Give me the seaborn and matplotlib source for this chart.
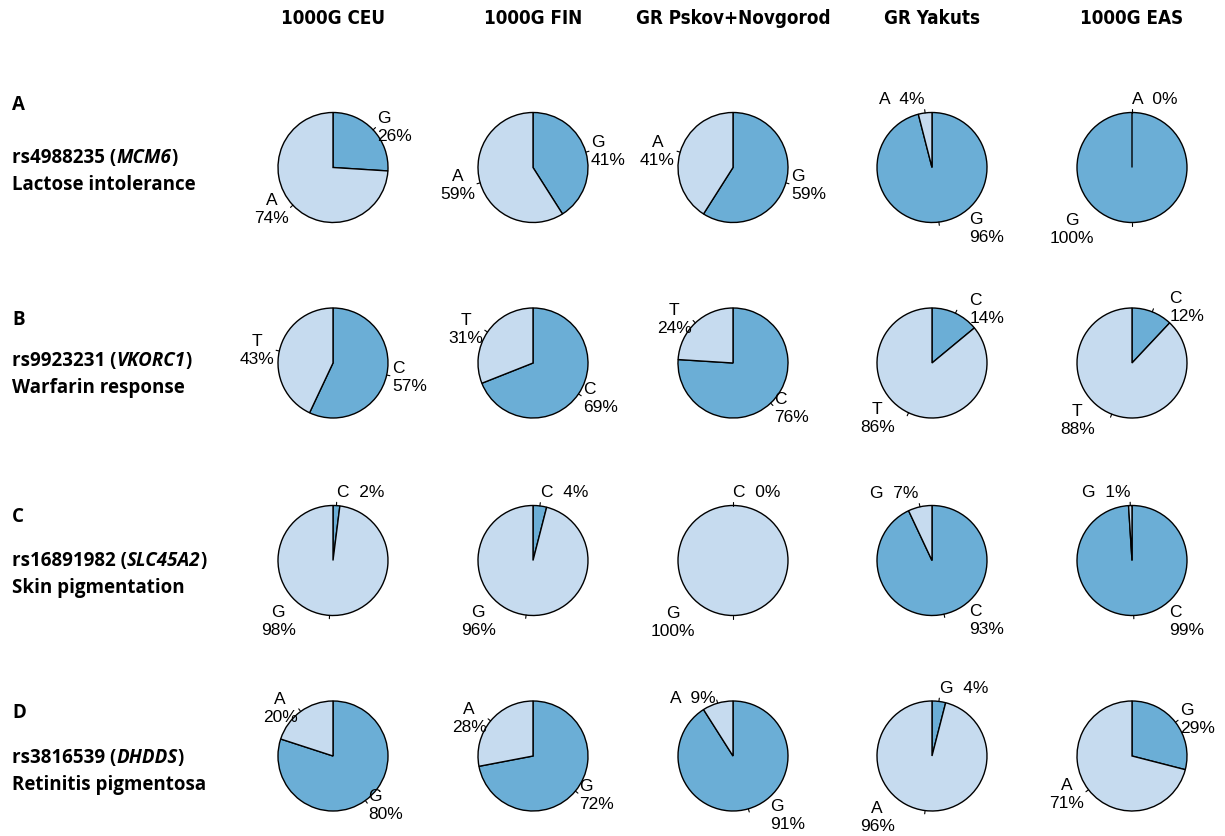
import numpy as np
import matplotlib.pyplot as plt
import seaborn as sns
from matplotlib import font_manager
from matplotlib.font_manager import FontProperties

# %%
populations = ["1000G CEU", "1000G FIN", "GR Pskov+Novgorod", "GR Yakuts", "1000G EAS"]
row_letters = ["A", "B", "C", "D"]
snp_ids = ["rs4988235", "rs9923231", "rs16891982", "rs3816539"]
genes = ["MCM6", "VKORC1", "SLC45A2", "DHDDS"]
traits = ["Lactose intolerance", "Warfarin response", "Skin pigmentation", "Retinitis pigmentosa"]

# first allele = dark slice, drawn clockwise from 12 o'clock
allele_1 = ["G", "C", "C", "G"]
allele_2 = ["A", "T", "G", "A"]
freq_1 = [[26, 41, 59, 96, 100],
          [57, 69, 76, 14, 12],
          [2, 4, 0, 93, 99],
          [80, 72, 91, 4, 29]]
freq_2 = [[74, 59, 41, 4, 0],
          [43, 31, 24, 86, 88],
          [98, 96, 100, 7, 1],
          [20, 28, 9, 96, 71]]

# %%
sns.set_theme(style="white")
plt.rcParams["text.color"] = "black"
dark, light = "#6BAED6", "#C6DBEF"


def find_face(family, condensed, style="normal"):
    # bold face of a family, picked by width and slant
    for f in font_manager.fontManager.ttflist:
        if f.name != family or f.style != style:
            continue
        w = f.weight if isinstance(f.weight, int) else font_manager.weight_dict.get(f.weight, 400)
        st = f.stretch if isinstance(f.stretch, int) else font_manager.stretch_dict.get(f.stretch, 500)
        if w >= 600 and w < 800 and (st < 500) == condensed:
            return f.fname
    return None


head_fp = None
for fam in ["Liberation Sans Narrow", "Open Sans", "DejaVu Sans", "Roboto"]:
    p = find_face(fam, True)
    if p:
        head_fp = FontProperties(fname=p, size=13.5)
        break
if head_fp is None:
    head_fp = FontProperties(family="DejaVu Sans", weight="bold", size=12.5)

side_size = 13.5
p_reg = find_face("Open Sans", False)
p_it = find_face("Open Sans", False, "italic")
side_fp = FontProperties(fname=p_reg, size=side_size) if p_reg else \
    FontProperties(family="Open Sans", weight="bold", size=side_size)
side_it = FontProperties(fname=p_it, size=side_size) if p_it else \
    FontProperties(family="Open Sans", weight="bold", style="italic", size=side_size)
pie_font = "Liberation Sans"

W, H = 1225, 837
fig = plt.figure(figsize=(W / 100, H / 100), dpi=100)
bg = fig.add_axes([0, 0, 1, 1])
bg.set_xlim(0, W)
bg.set_ylim(H, 0)
bg.axis("off")

col_x = [333, 533, 733, 932, 1132]
row_y = [168.5, 364, 561.5, 757]
r_px = 55
half = 98

for j, pop in enumerate(populations):
    bg.text(col_x[j], 18, pop, ha="center", va="center", fontproperties=head_fp)

# left side labels
letter_y = [105, 320, 517, 713]
line1_y = [158, 361, 561, 758]
for i in range(4):
    bg.text(12, letter_y[i], row_letters[i], ha="left", va="center", fontproperties=side_fp)
    t = bg.text(12, line1_y[i] + 10, f"{snp_ids[i]} (", ha="left", va="bottom",
                fontproperties=side_fp)
    t = bg.annotate(genes[i], xy=(1, 0), xycoords=t, ha="left", va="bottom",
                    fontproperties=side_it)
    bg.annotate(")", xy=(1, 0), xycoords=t, ha="left", va="bottom", fontproperties=side_fp)
    bg.text(12, line1_y[i] + 27, traits[i], ha="left", va="center", fontproperties=side_fp)

# pies
lim = half / r_px
for i in range(4):
    for j in range(5):
        ax = fig.add_axes([(col_x[j] - half) / W, 1 - (row_y[i] + half) / H,
                           2 * half / W, 2 * half / H])
        vals = [freq_1[i][j], freq_2[i][j]]
        alleles = [allele_1[i], allele_2[i]]
        wedges, _ = ax.pie(vals, colors=[dark, light], startangle=90,
                           counterclock=False, radius=1,
                           wedgeprops=dict(edgecolor="black", linewidth=1))
        for w, a, v in zip(wedges, alleles, vals):
            th = np.deg2rad((w.theta1 + w.theta2) / 2)
            c, s = np.cos(th), np.sin(th)
            ax.plot([c, 1.06 * c], [s, 1.06 * s], color="black", lw=0.8)
            single = v < 10
            txt = f"{a}  {v}%" if single else f"{a}\n{v}%"
            side = 1 if c > -1e-9 else -1
            ha = "left" if side > 0 else "right"
            x, y, va = 1.1 * c, 1.1 * s, "center"
            if s > 0.97:
                # thin slice at the top: label sits above the tick
                x, y, va = 1.12 * c, 1.12 * s, "bottom"
            elif abs(c) < 0.5 and not single:
                # keep two-line labels clear of the pie near top / bottom
                x = side * max(1.1 * abs(c), 0.68)
            ax.text(x, y, txt, ha=ha, va=va, fontsize=12.5,
                    family=pie_font, linespacing=1.25, clip_on=False,
                    multialignment="left" if ha == "left" else "center")
        ax.set_xlim(-lim, lim)
        ax.set_ylim(-lim, lim)
        ax.set_aspect("equal")
        ax.axis("off")

fig.savefig("out.png", dpi=100)
